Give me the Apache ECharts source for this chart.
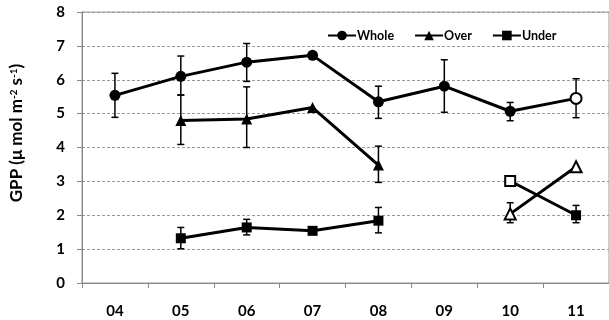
<!DOCTYPE html>
<html><head><meta charset="utf-8">
<script src="https://cdn.jsdelivr.net/npm/echarts@6/dist/echarts.min.js"></script>
<style>html,body{margin:0;padding:0;background:#fff}#c{width:609px;height:320px}</style>
</head><body><div id="c"></div>
<script>
const categories = ['04','05','06','07','08','09','10','11'];
const yTicks = [0,1,2,3,4,5,6,7,8];

const wholeVals = [5.54, 6.10, 6.52, 6.72, 5.35, 5.81, 5.07, 5.45];
const wholeLow  = [4.89, 5.55, 5.95, null, 4.86, 5.04, 4.79, 4.88];
const wholeHigh = [6.19, 6.70, 7.07, null, 5.81, 6.59, 5.33, 6.03];
const wholeOpen = [7];

const overVals = [null, 4.80, 4.84, 5.18, 3.48, null, 2.04, 3.43];
const overLow  = [null, 4.09, 4.00, null, 2.97, null, 1.78, null];
const overHigh = [null, 5.55, 5.79, null, 4.04, null, 2.37, null];
const overOpen = [6, 7];

const underVals = [null, 1.32, 1.64, 1.54, 1.84, null, 3.01, 2.00];
const underLow  = [null, 1.01, 1.42, null, 1.48, null, null, 1.78];
const underHigh = [null, 1.64, 1.88, null, 2.23, null, null, 2.29];
const underOpen = [6];

const chart = echarts.init(document.getElementById('c'));
const FONT = 'Lato';

function pts(vals, open){
  return vals.map((v,i)=> (v!=null && open.includes(i)) ?
    {value:v, itemStyle:{color:'#fff', borderColor:'#000', borderWidth:2}} : (v==null?'-':v));
}
function errData(low, high){
  const d=[];
  low.forEach((l,i)=>{ if(l!=null && high[i]!=null) d.push([i,l,high[i]]); });
  return d;
}
const errAll = errData(wholeLow,wholeHigh).concat(errData(overLow,overHigh), errData(underLow,underHigh));

function lineSeries(name, vals, open, symbol, size){
  return {
    name, type:'line', data: pts(vals, open), symbol, symbolSize:size,
    connectNulls:false, z:3,
    lineStyle:{color:'#000', width:3},
    itemStyle:{color:'#000', borderColor:'#000', borderWidth:0},
    emphasis:{disabled:true}
  };
}

chart.setOption({
  animation:false,
  textStyle:{fontFamily:FONT},
  grid:{left:82, right:0, top:12, bottom:37, show:true, borderColor:'#999', borderWidth:1, backgroundColor:'transparent'},
  legend:{
    left:322, top:24, itemWidth:28, itemHeight:12, itemGap:20,
    textStyle:{fontFamily:FONT, fontWeight:'bold', fontSize:12.5, color:'#000', padding:[0,0,0,-4]},
    data:['Whole','Over','Under']
  },
  xAxis:{
    type:'category', data:categories, boundaryGap:true,
    axisLine:{lineStyle:{color:'#888', width:1}},
    axisTick:{show:true, length:5, lineStyle:{color:'#888'}},
    axisLabel:{fontFamily:FONT, fontWeight:'bold', fontSize:15, color:'#000', margin:21}
  },
  yAxis:{
    type:'value', min:yTicks[0], max:yTicks[yTicks.length-1], interval:1,
    axisLine:{show:true, lineStyle:{color:'#888', width:1}},
    axisTick:{show:true, length:5, lineStyle:{color:'#888'}},
    axisLabel:{fontFamily:FONT, fontWeight:'bold', fontSize:15, color:'#000', margin:17},
    splitLine:{show:true, lineStyle:{color:'#999', type:[3,2], width:1}}
  },
  graphic:[{
    type:'text', x:17, y:133, rotation:Math.PI/2,
    style:{
      text:'{b|GPP (μ mol m}{s|-2}{b| s}{s|-1}{b|)}',
      align:'center', verticalAlign:'middle',
      rich:{
        b:{fontFamily:FONT, fontWeight:'bold', fontSize:17, fill:'#000', color:'#000'},
        s:{fontFamily:FONT, fontWeight:'bold', fontSize:10, fill:'#000', color:'#000', verticalAlign:'top', padding:[0,0,7,0]}
      }
    }
  }],
  series:[
    {
      type:'custom', z:1, silent:true, data:errAll,
      renderItem:function(params, api){
        const x=api.value(0), lo=api.value(1), hi=api.value(2);
        const p1=api.coord([x,lo]), p2=api.coord([x,hi]);
        const w=3.5, st={stroke:'#000', lineWidth:1.5};
        return {type:'group', children:[
          {type:'line', shape:{x1:p1[0],y1:p1[1],x2:p2[0],y2:p2[1]}, style:st},
          {type:'line', shape:{x1:p1[0]-w,y1:p1[1],x2:p1[0]+w,y2:p1[1]}, style:st},
          {type:'line', shape:{x1:p2[0]-w,y1:p2[1],x2:p2[0]+w,y2:p2[1]}, style:st}
        ]};
      }
    },
    lineSeries('Whole', wholeVals, wholeOpen, 'circle', 11),
    lineSeries('Over', overVals, overOpen, 'triangle', 11),
    lineSeries('Under', underVals, underOpen, 'rect', 10)
  ]
});
</script></body></html>
